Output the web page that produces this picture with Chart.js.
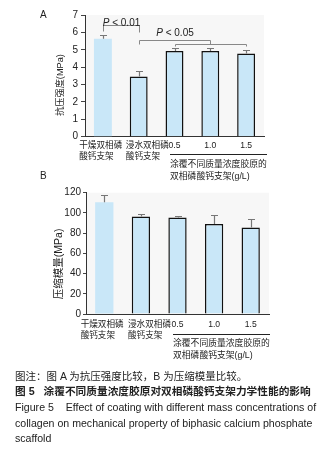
<!DOCTYPE html>
<html>
<head>
<meta charset="utf-8">
<script src="https://cdn.jsdelivr.net/npm/chart.js@4.4.1/dist/chart.umd.min.js"></script>
<style>
body{margin:0;background:#fff;}
#wrap{position:relative;width:332px;height:450px;overflow:hidden;background:#fff;
  font-family:"Liberation Sans","Noto Sans CJK SC",sans-serif;color:#222;}
canvas{position:absolute;left:0;}
.t{position:absolute;white-space:nowrap;}
.grp{font-size:8.8px;line-height:12px;}
.rule{position:absolute;height:0;border-top:1px solid #222;}
.cap{font-size:10.5px;line-height:15.5px;}
</style>
</head>
<body>
<div id="wrap">
  <canvas id="chartA" width="332" height="170" style="top:0"></canvas>
  <canvas id="chartB" width="332" height="172" style="top:176px"></canvas>

  <div class="t" style="left:40px;top:9px;font-size:10px">A</div>
  <div class="t" style="left:40px;top:170px;font-size:10px">B</div>

  <div class="rule" style="left:170px;top:154px;width:97px"></div>
  <div class="t grp" style="left:170px;top:158px">涂覆不同质量浓度胶原的<br>双相磷酸钙支架(g/L)</div>

  <div class="rule" style="left:173px;top:334px;width:97px"></div>
  <div class="t grp" style="left:173px;top:337px">涂覆不同质量浓度胶原的<br>双相磷酸钙支架(g/L)</div>

  <div class="t cap" style="left:15px;top:369px;">图注：图 A 为抗压强度比较，B 为压缩模量比较。</div>
  <div class="t cap" style="left:15px;top:384px;font-size:10.7px;font-weight:bold">图 5&nbsp;&nbsp;&nbsp;涂覆不同质量浓度胶原对双相磷酸钙支架力学性能的影响</div>
  <div class="t cap" style="left:15px;top:400px;font-size:10.6px">Figure 5&nbsp;&nbsp;&nbsp;&nbsp;Effect of coating with different mass concentrations of<br>collagen on mechanical property of biphasic calcium phosphate<br>scaffold</div>
</div>
<script>
// categories (x axis), two lines each; the spaces keep the lines left-aligned like the original
var categories = [
    ["干燥双相磷\u2002", "酸钙支架\u3000\u2002"],
    ["\u3000\u3000浸水双相磷", "\u3000\u3000酸钙支架\u3000"],
    ["0.5", ""],
    ["1.0", ""],
    ["1.5", ""]
];

// A: compressive strength (MPa)
var strengthMeans = [5.63, 3.46, 4.93, 4.93, 4.79];
var strengthErrors = [0.24, 0.31, 0.2, 0.17, 0.18];

// B: compressive modulus (MPa)
var modulusMeans = [110.5, 96.5, 95.5, 89, 85.5];
var modulusErrors = [7.5, 2, 1.5, 8.5, 8];

var barFill = "#c9e7f8";
var tickFont = {family: "Liberation Sans", size: 10};
var catFont = {family: "'Liberation Sans','Noto Sans CJK SC'", size: 8.6, lineHeight: 1.3};

// background of plot area, error bars and the p-value brackets
var extras = {
    id: "extras",
    beforeDraw: function(chart){
        var a = chart.chartArea, ctx = chart.ctx;
        ctx.save();
        ctx.fillStyle = "#f7f7f7";
        ctx.fillRect(a.left, a.top, a.right - a.left, a.bottom - a.top);
        ctx.restore();
    },
    afterDatasetsDraw: function(chart, args, opts){
        var ctx = chart.ctx;
        var y = chart.scales.y;
        var meta = chart.getDatasetMeta(0);
        var vals = chart.data.datasets[0].data;
        ctx.save();
        ctx.strokeStyle = "#777";
        ctx.lineWidth = 1.2;
        opts.errors.forEach(function(e, i){
            var bx = Math.round(meta.data[i].x) + 0.5;
            var y0 = y.getPixelForValue(vals[i]);
            var y1 = Math.round(y.getPixelForValue(vals[i] + e)) + 0.5;
            ctx.beginPath();
            ctx.moveTo(bx, y0);
            ctx.lineTo(bx, y1);
            ctx.moveTo(bx - 3.5, y1);
            ctx.lineTo(bx + 3.5, y1);
            ctx.stroke();
        });
        ctx.restore();
        if(opts.brackets){
            opts.brackets(chart);
        }
    }
};

function pText(ctx, label, cx, cy){
    ctx.font = "italic 10px 'Liberation Sans'";
    var w1 = ctx.measureText("P").width;
    ctx.font = "10px 'Liberation Sans'";
    var w2 = ctx.measureText(label).width;
    var x0 = cx - (w1 + w2) / 2;
    ctx.textBaseline = "middle";
    ctx.textAlign = "left";
    ctx.fillStyle = "#222";
    ctx.font = "italic 10px 'Liberation Sans'";
    ctx.fillText("P", x0, cy);
    ctx.font = "10px 'Liberation Sans'";
    ctx.fillText(label, x0 + w1, cy);
}

function bracketsA(chart){
    var ctx = chart.ctx, x = chart.scales.x, y = chart.scales.y;
    function px(i){ return Math.round(x.getPixelForValue(i)) + 0.5; }
    function py(v){ return Math.round(y.getPixelForValue(v)) + 0.5; }
    ctx.save();
    ctx.strokeStyle = "#888";
    ctx.lineWidth = 1;
    ctx.beginPath();
    // dry vs soaked
    ctx.moveTo(px(0), py(6.1));
    ctx.lineTo(px(0), py(6.42));
    ctx.lineTo(px(1), py(6.42));
    ctx.lineTo(px(1), py(6.0));
    // soaked vs coated groups
    ctx.moveTo(px(1), py(5.32));
    ctx.lineTo(px(1), py(5.59));
    ctx.lineTo(px(3), py(5.59));
    ctx.lineTo(px(3), py(5.34));
    ctx.moveTo(px(2), py(5.2));
    ctx.lineTo(px(2), py(5.32));
    ctx.lineTo(px(4), py(5.32));
    ctx.lineTo(px(4), py(5.2));
    ctx.stroke();
    pText(ctx, " < 0.01", (px(0) + px(1)) / 2, y.getPixelForValue(6.5));
    pText(ctx, " < 0.05", (px(1) + px(3)) / 2, y.getPixelForValue(5.95));
    ctx.restore();
}

function drawchart(id, values, errors, opt){
    var ctx = document.getElementById(id).getContext("2d");
    return new Chart(ctx, {
        type: "bar",
        data: {
            labels: categories,
            datasets: [{
                data: values,
                backgroundColor: barFill,
                borderColor: "#111",
                borderWidth: [0, 1.5, 1.5, 1.5, 1.5],
                borderSkipped: "bottom",
                barPercentage: 0.5,
                categoryPercentage: 1
            }]
        },
        options: {
            responsive: false,
            animation: false,
            layout: {padding: opt.padding},
            plugins: {
                legend: {display: false},
                tooltip: {enabled: false},
                extras: {errors: errors, brackets: opt.brackets}
            },
            scales: {
                x: {
                    grid: {display: false, drawTicks: false},
                    border: {color: "#333", width: 1},
                    ticks: {color: "#222", font: catFont, padding: opt.xPad, maxRotation: 0, autoSkip: false},
                    afterFit: function(s){ s.height = opt.xHeight; }
                },
                y: {
                    min: 0,
                    max: opt.max,
                    border: {color: "#333", width: 1},
                    grid: {drawOnChartArea: false, tickLength: opt.tickLen, color: "#444"},
                    ticks: {
                        stepSize: opt.minor,
                        color: "#222",
                        font: tickFont,
                        padding: opt.yPad,
                        callback: function(v){ return v % opt.major === 0 ? v : ""; }
                    },
                    title: {
                        display: true,
                        text: opt.title,
                        color: "#222",
                        font: {family: "'Liberation Sans','Noto Sans CJK SC'", size: opt.titleSize},
                        padding: 0
                    },
                    afterFit: function(s){ s.width = opt.yWidth; }
                }
            }
        },
        plugins: [extras]
    });
}

window.onload = function(){
    drawchart("chartA", strengthMeans, strengthErrors, {
        padding: {left: 55, right: 68, top: 15, bottom: 0},
        xHeight: 33.3, yWidth: 30, max: 7, major: 1, minor: 0.5,
        tickLen: 4, xPad: 3, yPad: 3, titleSize: 9.2,
        title: "抗压强度(MPa)\u3000\u3000", brackets: bracketsA
    });
    drawchart("chartB", modulusMeans, modulusErrors, {
        padding: {left: 53, right: 63, top: 16.7, bottom: 0},
        xHeight: 34, yWidth: 33, max: 120, major: 20, minor: 10,
        tickLen: 3, xPad: 5, yPad: 2, titleSize: 10.5,
        title: "压缩模量(MPa)\u3000\u3000", brackets: null
    });
};
</script>
</body>
</html>
